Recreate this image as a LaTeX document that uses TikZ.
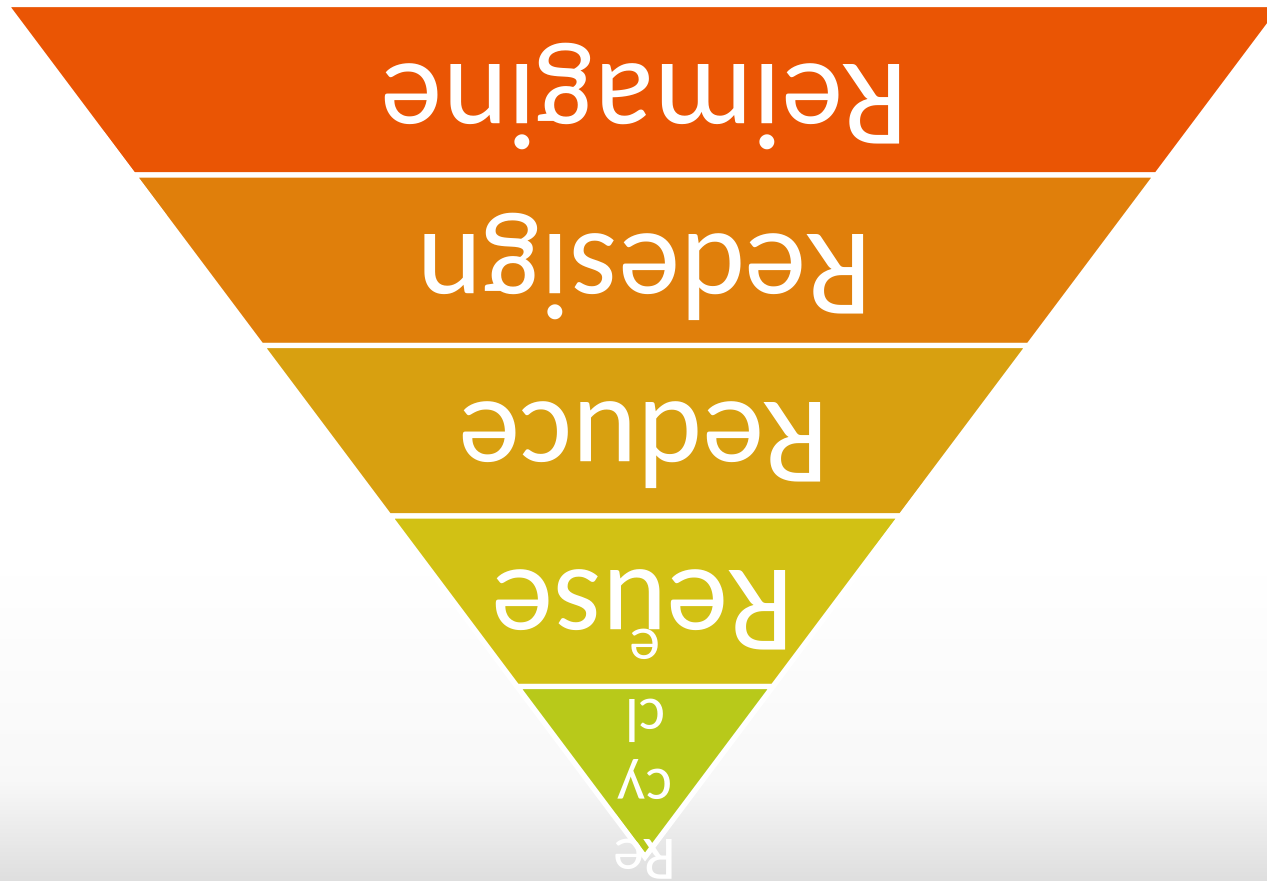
\documentclass[tikz,border=0pt]{standalone}
\usepackage{fontspec}
\newfontfamily\bandfont{Carlito}
\definecolor{bandA}{RGB}{234,85,4}
\definecolor{bandB}{RGB}{224,127,11}
\definecolor{bandC}{RGB}{216,160,16}
\definecolor{bandD}{RGB}{210,193,20}
\definecolor{bandE}{RGB}{184,201,26}
\definecolor{bgmid}{RGB}{248,248,248}
\definecolor{bggray}{RGB}{222,222,222}
\begin{document}
\begin{tikzpicture}[x=0.5pt,y=-0.5pt,
  band/.style={draw=white, line width=2.65pt, line join=miter},
  lbl/.style={text=white, font=\bandfont\fontsize{62}{74}\selectfont, rotate=180, anchor=base, inner sep=0pt},
  smalllbl/.style={text=white, font=\bandfont\fontsize{31}{35}\selectfont, rotate=180, align=center, inner sep=0pt}]
\useasboundingbox (0,0) rectangle (1267,881);
\clip (0,0) rectangle (1267,881);
\fill[white] (0,0) rectangle (1267,881);
\shade[top color=white, bottom color=bgmid] (0,560) rectangle (1267,781);
\shade[top color=bgmid, bottom color=bggray] (0,780) rectangle (1267,881);
% bands
\path[band, fill=bandA] (5.6,4.5) -- (1284.4,4.5) -- (1156.5,175) -- (133.5,175) -- cycle;
\path[band, fill=bandB] (133.5,175) -- (1156.5,175) -- (1028.65,345.5) -- (261.35,345.5) -- cycle;
\path[band, fill=bandC] (261.35,345.5) -- (1028.65,345.5) -- (900.8,516) -- (389.2,516) -- cycle;
\path[band, fill=bandD] (389.2,516) -- (900.8,516) -- (772.9,686.5) -- (517.1,686.5) -- cycle;
\path[band, fill=bandE] (517.1,686.5) -- (772.9,686.5) -- (645,857) -- cycle;
% labels
\node[lbl] (t1) at (645,65) {Reimagine};
\node[lbl] (t2) at (645,235) {Redesign};
\node[lbl] (t3) at (644,403) {Reduce};
\node[lbl] (t4) at (643,570) {Reuse};
\node[smalllbl] (t5) at (645,754.5) {Re\\cy\\cl\\e};
\end{tikzpicture}
\end{document}
